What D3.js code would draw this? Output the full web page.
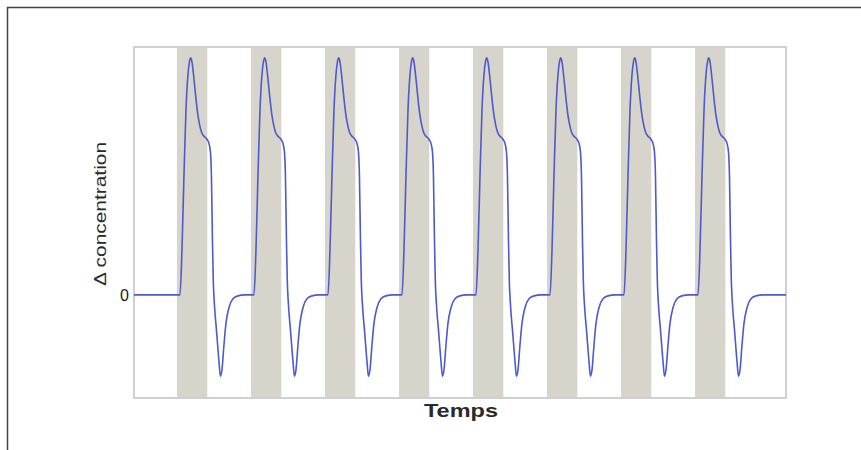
<!DOCTYPE html>
<html><head><meta charset="utf-8">
<script src="https://cdn.jsdelivr.net/npm/d3@7/dist/d3.min.js"></script>
<style>html,body{margin:0;padding:0;background:#fff}svg{display:block}</style>
</head><body>
<svg id="c" width="861" height="450"></svg>
<script>
// ---- data ----
const stimulusStarts = [5.8, 15.8, 25.8, 35.8, 45.8, 55.8, 65.8, 75.8];
const stimulusDuration = 4.1;
// one response cycle, time offset from stimulus onset and Δ concentration
const cycleT = [0, 0.41, 0.68, 0.95, 1.22, 1.49, 1.69, 1.85, 2.03, 2.30, 2.57, 2.84, 3.11, 3.38, 3.65, 4.05, 4.32, 4.53, 4.66, 4.80, 4.91, 5.07, 5.36, 5.68, 5.88, 6.08, 6.35, 6.62, 7.03, 7.57, 8.24, 9.19, 9.8];
const cycleV = [0, 0, 0.45, 1.20, 1.86, 2.22, 2.35, 2.39, 2.35, 2.18, 1.98, 1.81, 1.70, 1.63, 1.60, 1.57, 1.53, 1.44, 1.21, 0.55, 0.15, -0.10, -0.37, -0.67, -0.82, -0.76, -0.51, -0.29, -0.13, -0.04, -0.01, 0, 0];
const timeRange = [0, 88.1];
const valueRange = [-1.04, 2.50];
const yTicks = [0];
const xLabel = "Temps";
const yLabel = "Δ concentration";

// build the series from the cycle shape placed at each stimulus onset
const series = [{t: timeRange[0], v: 0}];
stimulusStarts.forEach(s => {
  cycleT.forEach((dt, i) => series.push({t: s + dt, v: cycleV[i]}));
});
series.push({t: timeRange[1], v: 0});

// ---- drawing ----
const svg = d3.select("#c");
const L = 134, R = 786, T = 47, B = 398;
const x = d3.scaleLinear().domain(timeRange).range([L, R]);
const y = d3.scaleLinear().domain(valueRange).range([B, T]);

// outer frame
svg.append("rect").attr("x", 7.5).attr("y", 7.5).attr("width", 900).attr("height", 500)
  .attr("fill", "none").attr("stroke", "#444").attr("stroke-width", 1.5);

// stimulus bands
svg.append("g").selectAll("rect").data(stimulusStarts).join("rect")
  .attr("x", d => x(d)).attr("y", T)
  .attr("width", d => x(d + stimulusDuration) - x(d))
  .attr("height", B - T)
  .attr("fill", "#d7d4cc");

// plot border
svg.append("rect").attr("x", L).attr("y", T).attr("width", R - L).attr("height", B - T)
  .attr("fill", "none").attr("stroke", "#d0d0d0").attr("stroke-width", 2);

// line
const line = d3.line().x(d => x(d.t)).y(d => y(d.v)).curve(d3.curveMonotoneX);
svg.append("path").datum(series).attr("d", line)
  .attr("fill", "none").attr("stroke", "#4d5acb").attr("stroke-width", 1.6);

// y axis (only the 0 tick)
const yAxis = svg.append("g").attr("transform", `translate(${L},0)`)
  .call(d3.axisLeft(y).tickValues(yTicks).tickSize(0).tickPadding(5).tickFormat(d3.format("d")));
yAxis.select(".domain").remove();
yAxis.selectAll("text").attr("font-family", "Liberation Sans, Arial, sans-serif")
  .attr("font-size", 16).attr("fill", "#1a1a1a");

// axis labels
svg.append("text").attr("x", 461).attr("y", 417).attr("text-anchor", "middle")
  .attr("font-family", "Liberation Sans, Arial, sans-serif").attr("font-size", 18)
  .attr("font-weight", "bold").attr("fill", "#2a2a2a")
  .attr("textLength", 74).attr("lengthAdjust", "spacingAndGlyphs")
  .text(xLabel);

svg.append("text").attr("transform", "translate(106,214) rotate(-90)")
  .attr("text-anchor", "middle")
  .attr("font-family", "Liberation Sans, Arial, sans-serif").attr("font-size", 16)
  .attr("fill", "#2a2a2a")
  .attr("textLength", 144).attr("lengthAdjust", "spacingAndGlyphs")
  .text(yLabel);
</script>
</body></html>
